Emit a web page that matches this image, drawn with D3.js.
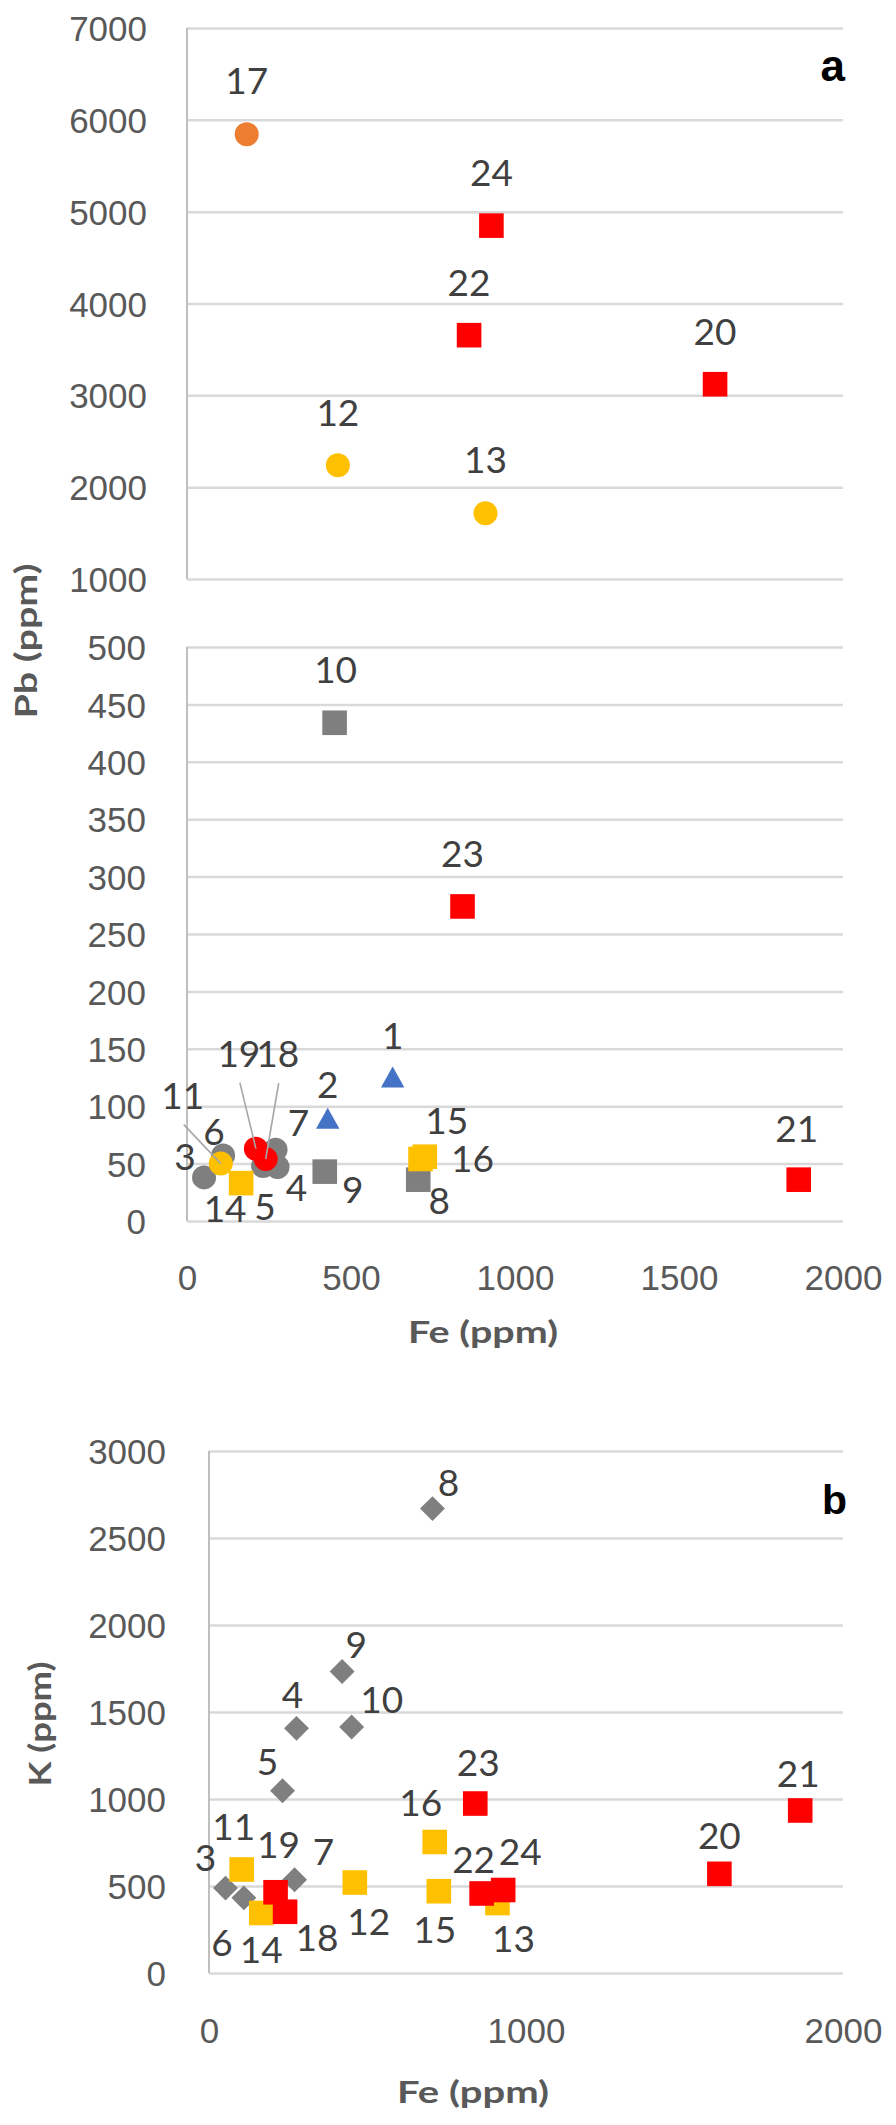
<!DOCTYPE html>
<html><head><meta charset="utf-8">
<script src="https://cdn.jsdelivr.net/npm/d3@7"></script>
<style>
html,body{margin:0;padding:0;background:#fff;}
svg{display:block;}
</style></head><body>
<script>
// ---------------- DATA ----------------
const sampleIds = [1,2,3,4,5,6,7,8,9,10,11,12,13,14,15,16,17,18,19,20,21,22,23,24];
const feValues  = [627,429,52,276,232,110,270,705,420,450,103,460,910,165,725,712,182,240,210,1610,1865,860,840,928];
const pbValues  = [125,89,38,47,48,57,62,36,43,434,50,2238,1717,33,56,54,5844,54,63,3121,36,3655,274,4848];
const kValues   = [null,null,488,1406,1047,432,536,2669,1733,1414,595,520,402,345,470,753,null,352,464,570,934,457,974,477];
const groupA = ["blueTri","blueTri","grayCirc","grayCirc","grayCirc","grayCirc","grayCirc","graySq","graySq","graySq",
                "yellowCirc","yellowCirc","yellowCirc","yellowSq","yellowSq","yellowSq","orangeCirc","redCirc","redCirc",
                "redSq","redSq","redSq","redSq","redSq"];
const groupB = [null,null,"grayDia","grayDia","grayDia","grayDia","grayDia","grayDia","grayDia","grayDia",
                "yellowSq","yellowSq","yellowSq","yellowSq","yellowSq","yellowSq",null,"redSq","redSq",
                "redSq","redSq","redSq","redSq","redSq"];
const pbTicksUpper = [1000,2000,3000,4000,5000,6000,7000];
const pbTicksLower = [0,50,100,150,200,250,300,350,400,450,500];
const feTicksA = [0,500,1000,1500,2000];
const kTicks = [0,500,1000,1500,2000,2500,3000];
const feTicksB = [0,1000,2000];
const pbSplit = 1000;

// ---------------- STYLE / LAYOUT ----------------
const styles = {
  blueTri:{shape:"tri",color:"#4472C4"},
  grayCirc:{shape:"circ",color:"#7F7F7F"},
  graySq:{shape:"sq",color:"#7F7F7F"},
  yellowCirc:{shape:"circ",color:"#FFC000"},
  yellowSq:{shape:"sq",color:"#FFC000"},
  orangeCirc:{shape:"circ",color:"#ED7D31"},
  redCirc:{shape:"circ",color:"#FF0000"},
  redSq:{shape:"sq",color:"#FF0000"},
  grayDia:{shape:"dia",color:"#7F7F7F"}
};
const orderA = ["grayCirc","graySq","blueTri","yellowCirc","yellowSq","orangeCirc","redCirc","redSq"];
const orderB = ["grayDia","yellowSq","redSq"];
// label offsets (px) relative to marker centre
const labelOffA = {1:[0,-42],2:[0,-34],3:[-19,-21],4:[19,21],5:[2,41],6:[-9,-24],7:[23,-27],8:[21,21],9:[28,18],
  10:[1,-53],11:[-38,-68],12:[0,-53],13:[0,-53],14:[-16,26],15:[22,-36],16:[52,0],17:[0,-53],18:[12,-105],
  19:[-17,-95],20:[0,-53],21:[-2,-51],22:[0,-53],23:[0,-53],24:[0,-53]};
const leaderA = [11,19,18];
const labelOffB = {3:[-20,-30],4:[-4,-34],5:[-15,-29],6:[-22,45],7:[29,-28],8:[16,-26],9:[14,-27],10:[30,-27],
  11:[-8,-43],12:[14,39],13:[16,36],14:[0,37],15:[-4,38],16:[-14,-39],18:[32,26],19:[3,-48],20:[0,-38],
  21:[-2,-37],22:[-8,-34],23:[3,-41],24:[17,-38]};

const W = 896, H = 2125;
const FONT = "Lato, 'Open Sans', sans-serif";
const GRID = "#D9D9D9", AXIS = "#BFBFBF", TICK = "#595959", LAB = "#404040";
const TICK_FS = "35px", LAB_FS = "37px";

const svg = d3.select("body").append("svg").attr("width", W).attr("height", H)
  .style("font-family", FONT);

// scales
const xA = d3.scaleLinear().domain([0,2000]).range([187,843]);
const yUp = d3.scaleLinear().domain([1000,7000]).range([579,28]);
const yLow = d3.scaleLinear().domain([0,500]).range([1221,647]);
const xB = d3.scaleLinear().domain([0,2000]).range([209,843]);
const yB = d3.scaleLinear().domain([0,3000]).range([1973,1451]);

function drawYAxis(scale, ticks, xs, pad){
  const g = svg.append("g").attr("transform", `translate(${xs.range()[0]},0)`)
    .call(d3.axisLeft(scale).tickValues(ticks).tickSize(-(xs.range()[1]-xs.range()[0])).tickPadding(pad).tickFormat(d3.format("d")));
  g.select(".domain").remove();
  g.selectAll(".tick line").attr("stroke", GRID).attr("stroke-width", 2.5);
  g.selectAll(".tick text").attr("fill", TICK).style("font-size",TICK_FS).attr("dy","0.36em");
  svg.append("line").attr("x1", xs.range()[0]).attr("x2", xs.range()[0])
    .attr("y1", scale.range()[1]).attr("y2", scale.range()[0])
    .attr("stroke", AXIS).attr("stroke-width", 2);
}
function drawXAxis(xs, ticks, y0, off){
  const g = svg.append("g").attr("transform", `translate(0,${y0})`)
    .call(d3.axisBottom(xs).tickValues(ticks).tickSize(0).tickFormat(d3.format("d")));
  g.select(".domain").remove();
  g.selectAll(".tick text").attr("fill", TICK).style("font-size",TICK_FS).attr("y", off).attr("dy","0.36em");
}

drawYAxis(yUp, pbTicksUpper, xA, 40);
drawYAxis(yLow, pbTicksLower, xA, 41);
drawXAxis(xA, feTicksA, yLow(0), 56);
drawYAxis(yB, kTicks, xB, 43);
drawXAxis(xB, feTicksB, yB(0), 57);

// titles
function title(txt, x, y, rot, len){
  svg.append("text").attr("transform", `translate(${x},${y}) rotate(${rot||0})`)
    .attr("text-anchor","middle")
    .attr("textLength", len).attr("lengthAdjust","spacingAndGlyphs")
    .attr("fill", TICK).style("font-size","30px").style("font-weight","bold").text(txt);
}
title("Pb (ppm)", 37, 641, -90, 155);
title("Fe (ppm)", 483, 1343, 0, 150);
title("K (ppm)", 51, 1724, -90, 125);
title("Fe (ppm)", 473, 2103, 0, 152);
svg.append("text").attr("x", 845).attr("y", 81).attr("text-anchor","end")
  .style("font-family","'Liberation Sans', Arial, sans-serif").style("font-weight","bold").style("font-size","44px").attr("fill","#000").text("a");
svg.append("text").attr("x", 847).attr("y", 1514).attr("text-anchor","end")
  .style("font-family","'Liberation Sans', Arial, sans-serif").style("font-weight","bold").style("font-size","41px").attr("fill","#000").text("b");

// markers
function marker(g, shape, color, cx, cy){
  if(shape==="circ") g.append("circle").attr("cx",cx).attr("cy",cy).attr("r",12).attr("fill",color);
  else if(shape==="sq") g.append("rect").attr("x",cx-12.3).attr("y",cy-12.3).attr("width",24.6).attr("height",24.6).attr("fill",color);
  else if(shape==="tri") g.append("path").attr("d",`M${cx},${cy-11}L${cx+11.7},${cy+10}L${cx-11.7},${cy+10}Z`).attr("fill",color);
  else if(shape==="dia") g.append("path").attr("d",d3.symbol(d3.symbolSquare, 310)()).attr("transform",`translate(${cx},${cy}) rotate(45)`).attr("fill",color);
}

const rows = sampleIds.map((id,i)=>({id, fe:feValues[i], pb:pbValues[i], k:kValues[i], ga:groupA[i], gb:groupB[i]}));
const yA = d => d.pb >= pbSplit ? yUp(d.pb) : yLow(d.pb);

// panel a
const gA = svg.append("g");
orderA.forEach(grp => rows.filter(d=>d.ga===grp).forEach(d=>{
  marker(gA, styles[grp].shape, styles[grp].color, xA(d.fe), yA(d));
}));
leaderA.forEach(id=>{
  const d = rows.find(r=>r.id===id), o = labelOffA[id];
  const px = xA(d.fe), py = yA(d);
  gA.append("line").attr("x1", px+o[0]+1).attr("y1", py+o[1]+29).attr("x2", px).attr("y2", py)
    .attr("stroke","#A6A6A6").attr("stroke-width",1.6);
});
rows.forEach(d=>{
  const o = labelOffA[d.id];
  gA.append("text").attr("x", xA(d.fe)+o[0]).attr("y", yA(d)+o[1]).attr("dy","0.36em")
    .attr("text-anchor","middle").attr("fill", LAB).style("font-size",LAB_FS).text(d.id);
});

// panel b
const gB = svg.append("g");
orderB.forEach(grp => rows.filter(d=>d.gb===grp).forEach(d=>{
  marker(gB, styles[grp].shape, styles[grp].color, xB(d.fe), yB(d.k));
}));
rows.filter(d=>d.k!==null).forEach(d=>{
  const o = labelOffB[d.id];
  gB.append("text").attr("x", xB(d.fe)+o[0]).attr("y", yB(d.k)+o[1]).attr("dy","0.36em")
    .attr("text-anchor","middle").attr("fill", LAB).style("font-size",LAB_FS).text(d.id);
});
</script>
</body></html>
